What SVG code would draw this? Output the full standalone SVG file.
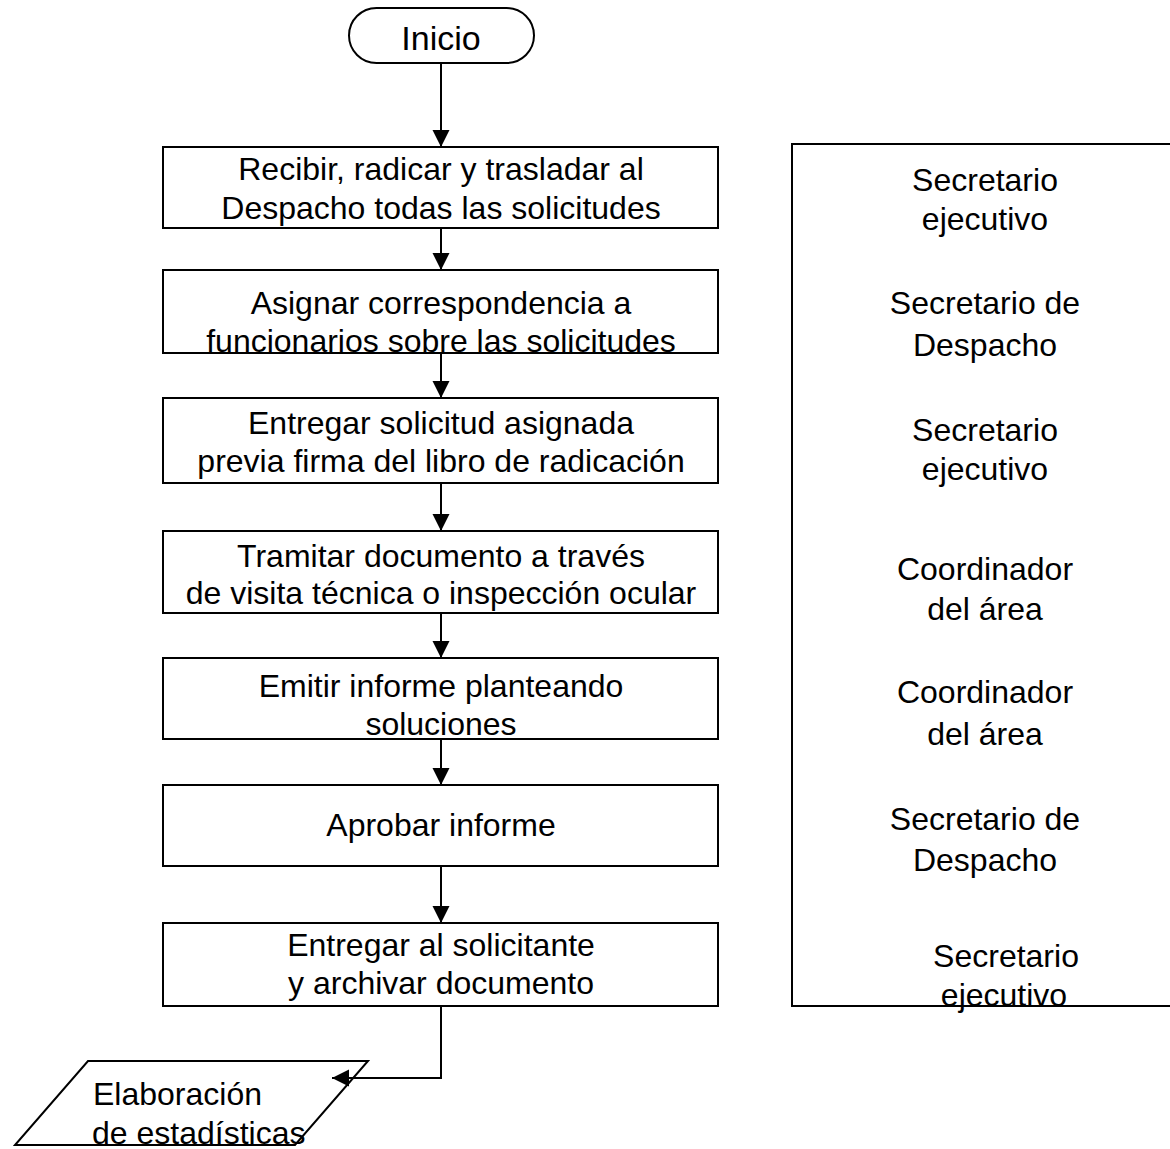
<svg xmlns="http://www.w3.org/2000/svg" width="1170" height="1149" viewBox="0 0 1170 1149">
  <style>
    .box { fill: #ffffff; stroke: #000000; stroke-width: 2; }
    .t { font-family: "Liberation Sans", Arial, sans-serif; font-size: 32px; fill: #000000; text-anchor: middle; }
    .tl { font-family: "Liberation Sans", Arial, sans-serif; font-size: 32px; fill: #000000; text-anchor: start; }
    .conn { fill: none; stroke: #000000; stroke-width: 2; }
  </style>
  <defs>
    <marker id="arrow" markerUnits="userSpaceOnUse" markerWidth="18" markerHeight="18" refX="17" refY="8.5" orient="auto">
      <path d="M0,0 L17,8.5 L0,17 z" fill="#000000"/>
    </marker>
  </defs>
  <rect width="1170" height="1149" fill="#ffffff"/>

  <g id="inicio">
    <rect class="box" x="349" y="8" width="185" height="55" rx="27.5" ry="27.5"/>
    <text class="t" x="441" y="50" style="font-size:34px">Inicio</text>
  </g>

  <g id="paso1">
    <rect class="box" x="163" y="147" width="555" height="81"/>
    <text class="t" x="441" y="180">Recibir, radicar y trasladar al</text>
    <text class="t" x="441" y="219">Despacho todas las solicitudes</text>
  </g>

  <g id="paso2">
    <rect class="box" x="163" y="270" width="555" height="83"/>
    <text class="t" x="441" y="314">Asignar correspondencia a</text>
    <text class="t" x="441" y="352">funcionarios sobre las solicitudes</text>
  </g>

  <g id="paso3">
    <rect class="box" x="163" y="398" width="555" height="85"/>
    <text class="t" x="441" y="434">Entregar solicitud asignada</text>
    <text class="t" x="441" y="472">previa firma del libro de radicación</text>
  </g>

  <g id="paso4">
    <rect class="box" x="163" y="531" width="555" height="82"/>
    <text class="t" x="441" y="567">Tramitar documento a través</text>
    <text class="t" x="441" y="604">de visita técnica o inspección ocular</text>
  </g>

  <g id="paso5">
    <rect class="box" x="163" y="658" width="555" height="81"/>
    <text class="t" x="441" y="697">Emitir informe planteando</text>
    <text class="t" x="441" y="735">soluciones</text>
  </g>

  <g id="paso6">
    <rect class="box" x="163" y="785" width="555" height="81"/>
    <text class="t" x="441" y="836">Aprobar informe</text>
  </g>

  <g id="paso7">
    <rect class="box" x="163" y="923" width="555" height="83"/>
    <text class="t" x="441" y="956">Entregar al solicitante</text>
    <text class="t" x="441" y="994">y archivar documento</text>
  </g>

  <g id="estadisticas">
    <polygon class="box" points="88,1061 368,1061 295,1145 15,1145"/>
    <text class="tl" x="93" y="1105">Elaboración</text>
    <text class="tl" x="92" y="1144">de estadísticas</text>
  </g>

  <g id="responsables">
    <rect class="box" x="792" y="144" width="400" height="862"/>
    <text class="t" x="985" y="191">Secretario</text>
    <text class="t" x="985" y="230">ejecutivo</text>
    <text class="t" x="985" y="314">Secretario de</text>
    <text class="t" x="985" y="356">Despacho</text>
    <text class="t" x="985" y="441">Secretario</text>
    <text class="t" x="985" y="480">ejecutivo</text>
    <text class="t" x="985" y="580">Coordinador</text>
    <text class="t" x="985" y="620">del área</text>
    <text class="t" x="985" y="703">Coordinador</text>
    <text class="t" x="985" y="745">del área</text>
    <text class="t" x="985" y="830">Secretario de</text>
    <text class="t" x="985" y="871">Despacho</text>
    <text class="t" x="1006" y="967">Secretario</text>
    <text class="t" x="1004" y="1006">ejecutivo</text>
  </g>

  <g id="connectors">
    <line class="conn" x1="441" y1="63" x2="441" y2="147" marker-end="url(#arrow)"/>
    <line class="conn" x1="441" y1="228" x2="441" y2="270" marker-end="url(#arrow)"/>
    <line class="conn" x1="441" y1="353" x2="441" y2="398" marker-end="url(#arrow)"/>
    <line class="conn" x1="441" y1="483" x2="441" y2="531" marker-end="url(#arrow)"/>
    <line class="conn" x1="441" y1="613" x2="441" y2="658" marker-end="url(#arrow)"/>
    <line class="conn" x1="441" y1="739" x2="441" y2="785" marker-end="url(#arrow)"/>
    <line class="conn" x1="441" y1="866" x2="441" y2="923" marker-end="url(#arrow)"/>
    <polyline class="conn" points="441,1006 441,1078 332,1078" marker-end="url(#arrow)"/>
  </g>
</svg>
